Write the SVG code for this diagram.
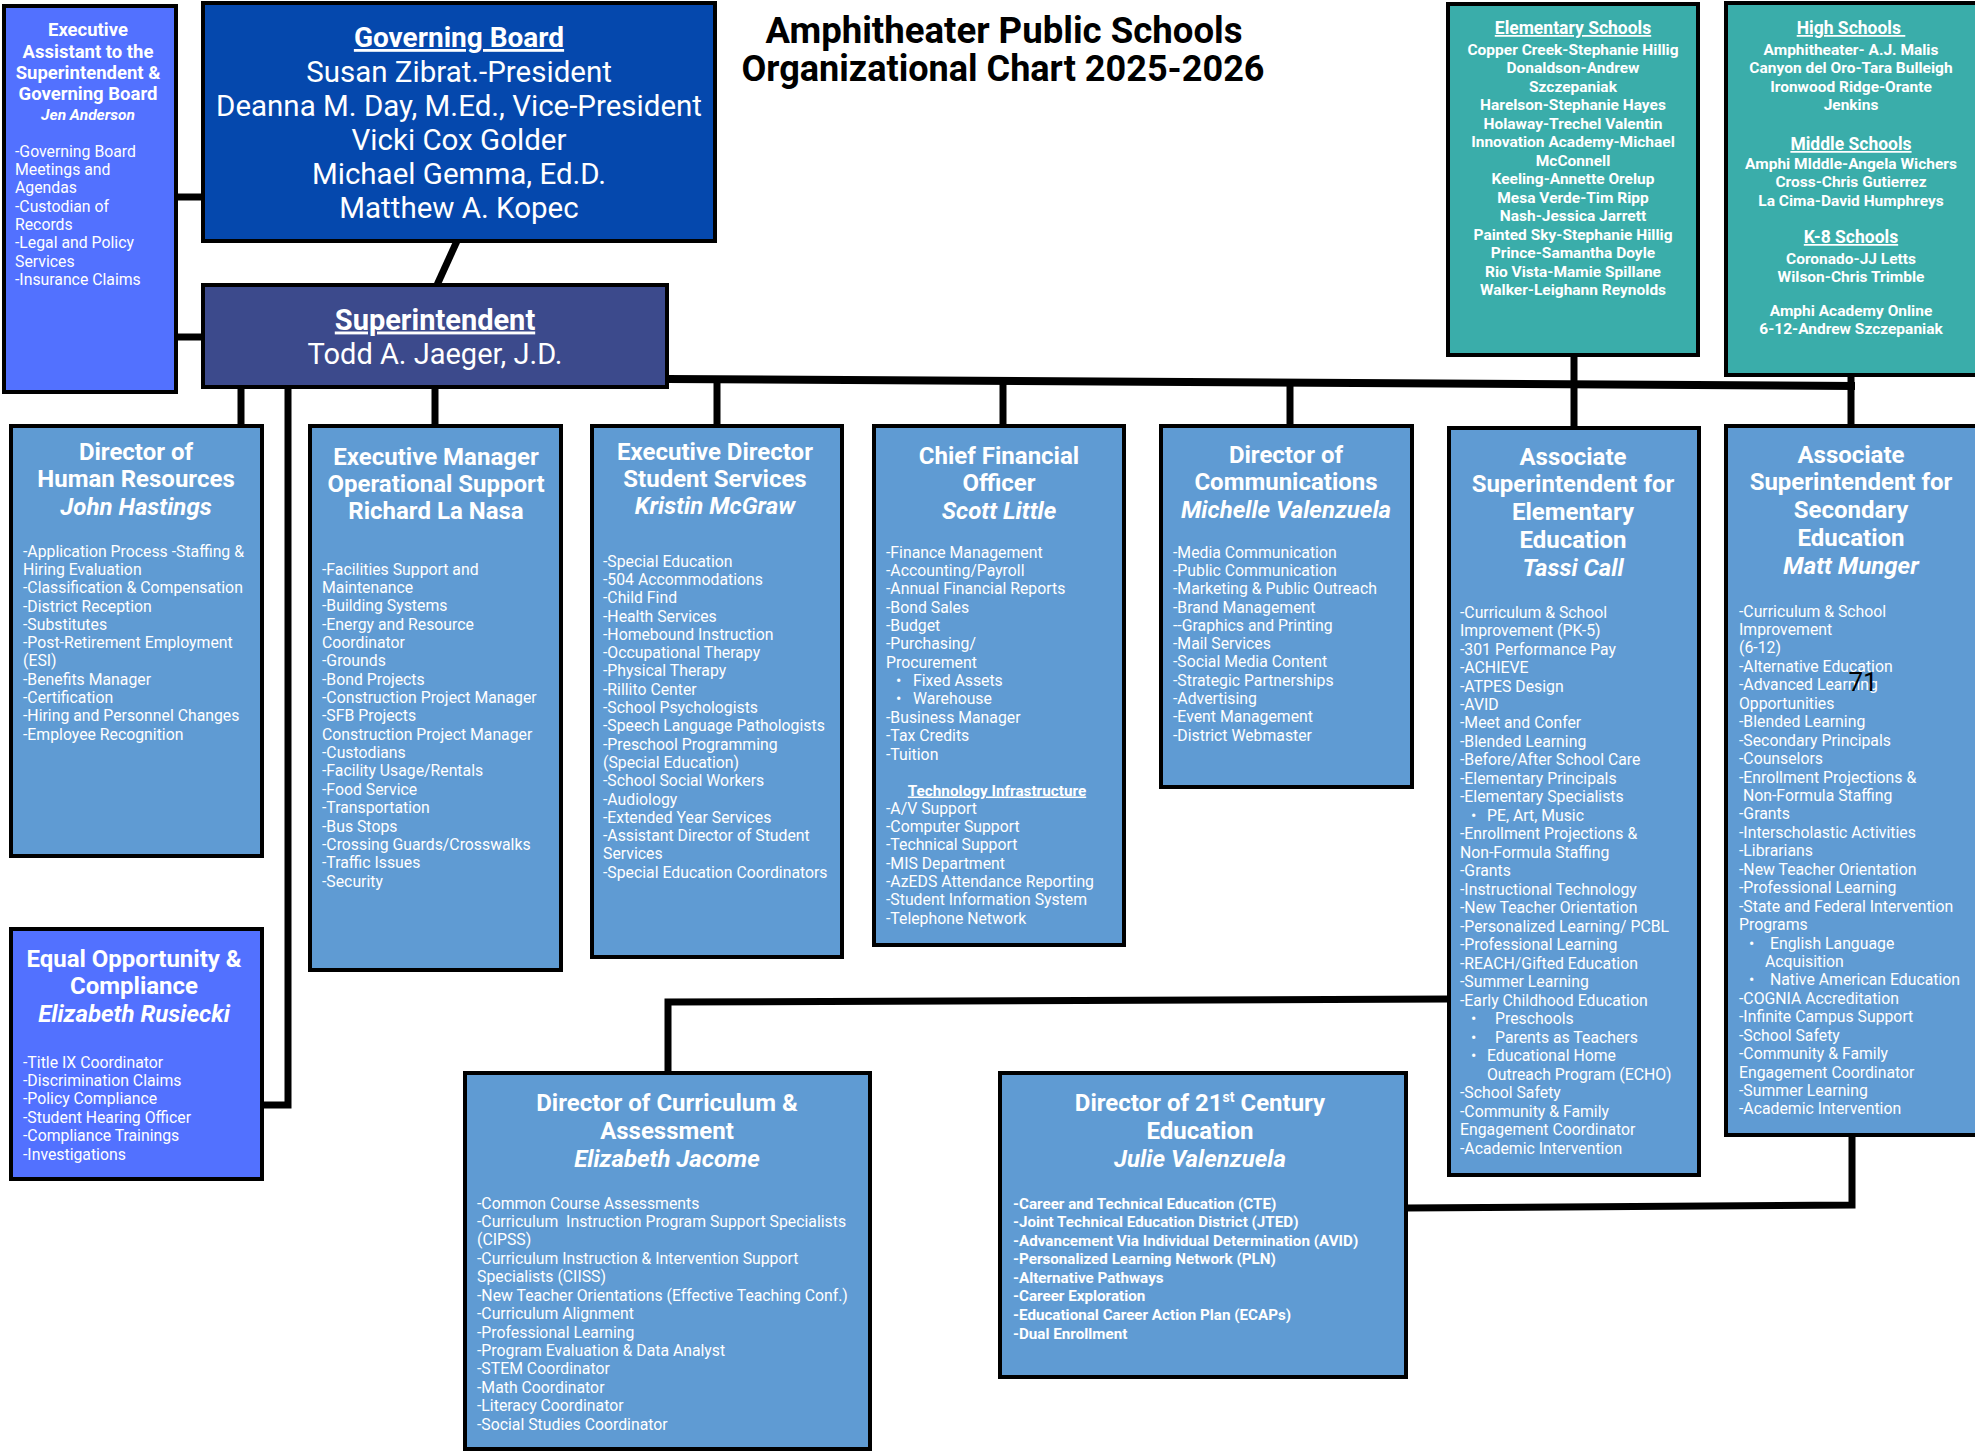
<svg xmlns="http://www.w3.org/2000/svg" width="1975" height="1452" viewBox="0 0 1975 1452">
<style>
text{font-family:Roboto,"Liberation Sans",Arial,sans-serif;fill:#fff}
.box{stroke:#000;stroke-width:4}
.lb{fill:#5F9BD3}
.vb{fill:#5271FF}
.teal{fill:#3AADAA}
.b{font-size:15.8px}
.bb{font-size:15.2px;font-weight:bold}
.h{font-size:24px;font-weight:bold;text-anchor:middle}
.it{font-style:italic}
.u{text-decoration:underline}
.sc{font-size:15.5px;font-weight:bold;text-anchor:middle}
.sh{font-size:17.5px;font-weight:bold;text-anchor:middle;text-decoration:underline}
#connectors line,#connectors polyline{stroke:#000;stroke-width:7;fill:none}
</style>
<rect width="1975" height="1452" fill="#fff"/>

<g id="connectors">
<line x1="176" y1="197" x2="203" y2="197"/>
<line x1="176" y1="337" x2="203" y2="337"/>
<line x1="457" y1="241" x2="437" y2="285"/>
<line x1="667" y1="379" x2="1855" y2="386" style="stroke-width:8"/>
<line x1="241" y1="387" x2="241" y2="426"/>
<line x1="435" y1="387" x2="435" y2="426"/>
<polyline points="288,387 288,1105 262,1105"/>
<line x1="717" y1="379" x2="717" y2="426"/>
<line x1="1003" y1="381" x2="1003" y2="426"/>
<line x1="1290" y1="383" x2="1290" y2="426"/>
<line x1="1574" y1="355" x2="1574" y2="428"/>
<line x1="1851" y1="375" x2="1851" y2="426"/>
<polyline points="1449,999 668,1002 668,1073"/>
<polyline points="1406,1208 1852,1205 1852,1135"/>
</g>

<g id="title">
<text x="1004" y="43" text-anchor="middle" font-size="36" font-weight="bold" textLength="477" lengthAdjust="spacingAndGlyphs" style="fill:#000">Amphitheater Public Schools</text>
<text x="1003" y="81" text-anchor="middle" font-size="36" font-weight="bold" textLength="523" lengthAdjust="spacingAndGlyphs" style="fill:#000">Organizational Chart 2025-2026</text>
</g>

<g id="exec-assistant">
<rect class="box vb" x="4" y="6" width="172" height="386"/>
<text font-size="18.5" font-weight="bold" text-anchor="middle"><tspan x="88" y="36">Executive</tspan><tspan x="88" y="57.5">Assistant to the</tspan><tspan x="88" y="79">Superintendent &amp;</tspan><tspan x="88" y="100">Governing Board</tspan></text>
<text x="88" y="119.5" font-size="15.5" font-weight="bold" font-style="italic" text-anchor="middle">Jen Anderson</text>
<text font-size="15.8"><tspan x="15" y="156.5">-Governing Board</tspan><tspan x="15" dy="18.35">Meetings and</tspan><tspan x="15" dy="18.35">Agendas</tspan><tspan x="15" dy="18.35">-Custodian of</tspan><tspan x="15" dy="18.35">Records</tspan><tspan x="15" dy="18.35">-Legal and Policy</tspan><tspan x="15" dy="18.35">Services</tspan><tspan x="15" dy="18.35">-Insurance Claims</tspan></text>
</g>

<g id="governing-board">
<rect class="box" x="203" y="3" width="512" height="238" fill="#0548AD"/>
<text x="459" y="47" font-size="28" font-weight="bold" text-anchor="middle" class="u">Governing Board</text>
<text font-size="29.5" text-anchor="middle"><tspan x="459" y="81.5">Susan Zibrat.-President</tspan><tspan x="459" dy="34">Deanna M. Day, M.Ed., Vice-President</tspan><tspan x="459" dy="34">Vicki Cox Golder</tspan><tspan x="459" dy="34">Michael Gemma, Ed.D.</tspan><tspan x="459" dy="34">Matthew A. Kopec</tspan></text>
</g>

<g id="superintendent">
<rect class="box" x="203" y="285" width="464" height="102" fill="#3C4A8C"/>
<text x="435" y="329.5" font-size="29" font-weight="bold" text-anchor="middle" class="u">Superintendent</text>
<text x="435" y="363.5" font-size="29" text-anchor="middle">Todd A. Jaeger, J.D.</text>
</g>

<g id="elementary-schools">
<rect class="box teal" x="1448" y="4" width="250" height="351"/>
<text x="1573" y="34" class="sh">Elementary Schools</text>
<text class="sc"><tspan x="1573" y="54.5">Copper Creek-Stephanie Hillig</tspan><tspan x="1573" dy="18.5">Donaldson-Andrew</tspan><tspan x="1573" dy="18.5">Szczepaniak</tspan><tspan x="1573" dy="18.5">Harelson-Stephanie Hayes</tspan><tspan x="1573" dy="18.5">Holaway-Trechel Valentin</tspan><tspan x="1573" dy="18.5">Innovation Academy-Michael</tspan><tspan x="1573" dy="18.5">McConnell</tspan><tspan x="1573" dy="18.5">Keeling-Annette Orelup</tspan><tspan x="1573" dy="18.5">Mesa Verde-Tim Ripp</tspan><tspan x="1573" dy="18.5">Nash-Jessica Jarrett</tspan><tspan x="1573" dy="18.5">Painted Sky-Stephanie Hillig</tspan><tspan x="1573" dy="18.5">Prince-Samantha Doyle</tspan><tspan x="1573" dy="18.5">Rio Vista-Mamie Spillane</tspan><tspan x="1573" dy="18.5">Walker-Leighann Reynolds</tspan></text>
</g>

<g id="high-schools">
<rect class="box teal" x="1726" y="3" width="252" height="372"/>
<text x="1851" y="34" class="sh">High Schools&#160;</text>
<text class="sc"><tspan x="1851" y="54.5">Amphitheater- A.J. Malis</tspan><tspan x="1851" dy="18.5">Canyon del Oro-Tara Bulleigh</tspan><tspan x="1851" dy="18.5">Ironwood Ridge-Orante</tspan><tspan x="1851" dy="18.5">Jenkins</tspan></text>
<text x="1851" y="150" class="sh">Middle Schools</text>
<text class="sc"><tspan x="1851" y="168.5">Amphi MIddle-Angela Wichers</tspan><tspan x="1851" dy="18.5">Cross-Chris Gutierrez</tspan><tspan x="1851" dy="18.5">La Cima-David Humphreys</tspan></text>
<text x="1851" y="243" class="sh">K-8 Schools</text>
<text class="sc"><tspan x="1851" y="263.5">Coronado-JJ Letts</tspan><tspan x="1851" dy="18.5">Wilson-Chris Trimble</tspan></text>
<text class="sc"><tspan x="1851" y="315.5">Amphi Academy Online</tspan><tspan x="1851" dy="18.5">6-12-Andrew Szczepaniak</tspan></text>
</g>

<g id="human-resources">
<rect class="box lb" x="11" y="426" width="251" height="430"/>
<text class="h"><tspan x="136" y="460">Director of</tspan><tspan x="136" dy="27.3">Human Resources</tspan><tspan x="136" dy="27.3" class="it">John Hastings</tspan></text>
<text class="b"><tspan x="23" y="556.6">-Application Process -Staffing &amp;</tspan><tspan x="23" dy="18.3">Hiring Evaluation</tspan><tspan x="23" dy="18.3">-Classification &amp; Compensation</tspan><tspan x="23" dy="18.3">-District Reception</tspan><tspan x="23" dy="18.3">-Substitutes</tspan><tspan x="23" dy="18.3">-Post-Retirement Employment</tspan><tspan x="23" dy="18.3">(ESI)</tspan><tspan x="23" dy="18.3">-Benefits Manager</tspan><tspan x="23" dy="18.3">-Certification</tspan><tspan x="23" dy="18.3">-Hiring and Personnel Changes</tspan><tspan x="23" dy="18.3">-Employee Recognition</tspan></text>
</g>

<g id="operational-support">
<rect class="box lb" x="310" y="426" width="251" height="544"/>
<text class="h"><tspan x="436" y="465">Executive Manager</tspan><tspan x="436" dy="27.2">Operational Support</tspan><tspan x="436" dy="27.2">Richard La Nasa</tspan></text>
<text class="b"><tspan x="322" y="574.6">-Facilities Support and</tspan><tspan x="322" dy="18.35">Maintenance</tspan><tspan x="322" dy="18.35">-Building Systems</tspan><tspan x="322" dy="18.35">-Energy and Resource</tspan><tspan x="322" dy="18.35">Coordinator</tspan><tspan x="322" dy="18.35">-Grounds</tspan><tspan x="322" dy="18.35">-Bond Projects</tspan><tspan x="322" dy="18.35">-Construction Project Manager</tspan><tspan x="322" dy="18.35">-SFB Projects</tspan><tspan x="322" dy="18.35">Construction Project Manager</tspan><tspan x="322" dy="18.35">-Custodians</tspan><tspan x="322" dy="18.35">-Facility Usage/Rentals</tspan><tspan x="322" dy="18.35">-Food Service</tspan><tspan x="322" dy="18.35">-Transportation</tspan><tspan x="322" dy="18.35">-Bus Stops</tspan><tspan x="322" dy="18.35">-Crossing Guards/Crosswalks</tspan><tspan x="322" dy="18.35">-Traffic Issues</tspan><tspan x="322" dy="18.35">-Security</tspan></text>
</g>

<g id="student-services">
<rect class="box lb" x="592" y="426" width="250" height="531"/>
<text class="h"><tspan x="715" y="459.6">Executive Director</tspan><tspan x="715" dy="27.3">Student Services</tspan><tspan x="715" dy="27.3" class="it">Kristin McGraw</tspan></text>
<text class="b"><tspan x="603" y="566.6">-Special Education</tspan><tspan x="603" dy="18.3">-504 Accommodations</tspan><tspan x="603" dy="18.3">-Child Find</tspan><tspan x="603" dy="18.3">-Health Services</tspan><tspan x="603" dy="18.3">-Homebound Instruction</tspan><tspan x="603" dy="18.3">-Occupational Therapy</tspan><tspan x="603" dy="18.3">-Physical Therapy</tspan><tspan x="603" dy="18.3">-Rillito Center</tspan><tspan x="603" dy="18.3">-School Psychologists</tspan><tspan x="603" dy="18.3">-Speech Language Pathologists</tspan><tspan x="603" dy="18.3">-Preschool Programming</tspan><tspan x="603" dy="18.3">(Special Education)</tspan><tspan x="603" dy="18.3">-School Social Workers</tspan><tspan x="603" dy="18.3">-Audiology</tspan><tspan x="603" dy="18.3">-Extended Year Services</tspan><tspan x="603" dy="18.3">-Assistant Director of Student</tspan><tspan x="603" dy="18.3">Services</tspan><tspan x="603" dy="18.3">-Special Education Coordinators</tspan></text>
</g>

<g id="cfo">
<rect class="box lb" x="874" y="426" width="250" height="519"/>
<text class="h"><tspan x="999" y="463.5">Chief Financial</tspan><tspan x="999" dy="27.5">Officer</tspan><tspan x="999" dy="27.5" class="it">Scott Little</tspan></text>
<text class="b"><tspan x="886" y="557.6">-Finance Management</tspan><tspan x="886" dy="18.36">-Accounting/Payroll</tspan><tspan x="886" dy="18.36">-Annual Financial Reports</tspan><tspan x="886" dy="18.36">-Bond Sales</tspan><tspan x="886" dy="18.36">-Budget</tspan><tspan x="886" dy="18.36">-Purchasing/</tspan><tspan x="886" dy="18.36">Procurement</tspan><tspan x="896" dy="18.36">•</tspan><tspan x="913">Fixed Assets</tspan><tspan x="896" dy="18.36">•</tspan><tspan x="913">Warehouse</tspan><tspan x="886" dy="18.36">-Business Manager</tspan><tspan x="886" dy="18.36">-Tax Credits</tspan><tspan x="886" dy="18.36">-Tuition</tspan></text>
<text x="997" y="795.5" font-size="15.3" font-weight="bold" text-anchor="middle" class="u">Technology Infrastructure</text>
<text class="b"><tspan x="886" y="813.6">-A/V Support</tspan><tspan x="886" dy="18.33">-Computer Support</tspan><tspan x="886" dy="18.33">-Technical Support</tspan><tspan x="886" dy="18.33">-MIS Department</tspan><tspan x="886" dy="18.33">-AzEDS Attendance Reporting</tspan><tspan x="886" dy="18.33">-Student Information System</tspan><tspan x="886" dy="18.33">-Telephone Network</tspan></text>
</g>

<g id="communications">
<rect class="box lb" x="1161" y="426" width="251" height="361"/>
<text class="h"><tspan x="1286" y="462.6">Director of</tspan><tspan x="1286" dy="27.5">Communications</tspan><tspan x="1286" dy="27.5" class="it">Michelle Valenzuela</tspan></text>
<text class="b"><tspan x="1173" y="557.6">-Media Communication</tspan><tspan x="1173" dy="18.3">-Public Communication</tspan><tspan x="1173" dy="18.3">-Marketing &amp; Public Outreach</tspan><tspan x="1173" dy="18.3">-Brand Management</tspan><tspan x="1173" dy="18.3">--Graphics and Printing</tspan><tspan x="1173" dy="18.3">-Mail Services</tspan><tspan x="1173" dy="18.3">-Social Media Content</tspan><tspan x="1173" dy="18.3">-Strategic Partnerships</tspan><tspan x="1173" dy="18.3">-Advertising</tspan><tspan x="1173" dy="18.3">-Event Management</tspan><tspan x="1173" dy="18.3">-District Webmaster</tspan></text>
</g>

<g id="assoc-elementary">
<rect class="box lb" x="1449" y="428" width="250" height="747"/>
<text class="h"><tspan x="1573" y="464.6">Associate</tspan><tspan x="1573" dy="27.75">Superintendent for</tspan><tspan x="1573" dy="27.75">Elementary</tspan><tspan x="1573" dy="27.75">Education</tspan><tspan x="1573" dy="27.75" class="it">Tassi Call</tspan></text>
<text class="b"><tspan x="1460" y="617.6">-Curriculum &amp; School</tspan><tspan x="1460" dy="18.48">Improvement (PK-5)</tspan><tspan x="1460" dy="18.48">-301 Performance Pay</tspan><tspan x="1460" dy="18.48">-ACHIEVE</tspan><tspan x="1460" dy="18.48">-ATPES Design</tspan><tspan x="1460" dy="18.48">-AVID</tspan><tspan x="1460" dy="18.48">-Meet and Confer</tspan><tspan x="1460" dy="18.48">-Blended Learning</tspan><tspan x="1460" dy="18.48">-Before/After School Care</tspan><tspan x="1460" dy="18.48">-Elementary Principals</tspan><tspan x="1460" dy="18.48">-Elementary Specialists</tspan><tspan x="1471" dy="18.48">•</tspan><tspan x="1487">PE, Art, Music</tspan><tspan x="1460" dy="18.48">-Enrollment Projections &amp;</tspan><tspan x="1460" dy="18.48">Non-Formula Staffing</tspan><tspan x="1460" dy="18.48">-Grants</tspan><tspan x="1460" dy="18.48">-Instructional Technology</tspan><tspan x="1460" dy="18.48">-New Teacher Orientation</tspan><tspan x="1460" dy="18.48">-Personalized Learning/ PCBL</tspan><tspan x="1460" dy="18.48">-Professional Learning</tspan><tspan x="1460" dy="18.48">-REACH/Gifted Education</tspan><tspan x="1460" dy="18.48">-Summer Learning</tspan><tspan x="1460" dy="18.48">-Early Childhood Education</tspan><tspan x="1471" dy="18.48">•</tspan><tspan x="1495">Preschools</tspan><tspan x="1471" dy="18.48">•</tspan><tspan x="1495">Parents as Teachers</tspan><tspan x="1471" dy="18.48">•</tspan><tspan x="1487">Educational Home</tspan><tspan x="1487" dy="18.48">Outreach Program (ECHO)</tspan><tspan x="1460" dy="18.48">-School Safety</tspan><tspan x="1460" dy="18.48">-Community &amp; Family</tspan><tspan x="1460" dy="18.48">Engagement Coordinator</tspan><tspan x="1460" dy="18.48">-Academic Intervention</tspan></text>
</g>

<g id="assoc-secondary">
<rect class="box lb" x="1726" y="426" width="252" height="709"/>
<text class="h"><tspan x="1851" y="462.6">Associate</tspan><tspan x="1851" dy="27.8">Superintendent for</tspan><tspan x="1851" dy="27.8">Secondary</tspan><tspan x="1851" dy="27.8">Education</tspan><tspan x="1851" dy="27.8" class="it">Matt Munger</tspan></text>
<text class="b"><tspan x="1739" y="616.6">-Curriculum &amp; School</tspan><tspan x="1739" dy="18.44">Improvement</tspan><tspan x="1739" dy="18.44">(6-12)</tspan><tspan x="1739" dy="18.44">-Alternative Education</tspan><tspan x="1739" dy="18.44">-Advanced Learning</tspan><tspan x="1739" dy="18.44">Opportunities</tspan><tspan x="1739" dy="18.44">-Blended Learning</tspan><tspan x="1739" dy="18.44">-Secondary Principals</tspan><tspan x="1739" dy="18.44">-Counselors</tspan><tspan x="1739" dy="18.44">-Enrollment Projections &amp;</tspan><tspan x="1743" dy="18.44">Non-Formula Staffing</tspan><tspan x="1739" dy="18.44">-Grants</tspan><tspan x="1739" dy="18.44">-Interscholastic Activities</tspan><tspan x="1739" dy="18.44">-Librarians</tspan><tspan x="1739" dy="18.44">-New Teacher Orientation</tspan><tspan x="1739" dy="18.44">-Professional Learning</tspan><tspan x="1739" dy="18.44">-State and Federal Intervention</tspan><tspan x="1739" dy="18.44">Programs</tspan><tspan x="1749" dy="18.44">•</tspan><tspan x="1770">English Language</tspan><tspan x="1765" dy="18.44">Acquisition</tspan><tspan x="1749" dy="18.44">•</tspan><tspan x="1770">Native American Education</tspan><tspan x="1739" dy="18.44">-COGNIA Accreditation</tspan><tspan x="1739" dy="18.44">-Infinite Campus Support</tspan><tspan x="1739" dy="18.44">-School Safety</tspan><tspan x="1739" dy="18.44">-Community &amp; Family</tspan><tspan x="1739" dy="18.44">Engagement Coordinator</tspan><tspan x="1739" dy="18.44">-Summer Learning</tspan><tspan x="1739" dy="18.44">-Academic Intervention</tspan></text>
<text x="1863" y="691" font-size="26" text-anchor="middle" style="fill:#000">71</text>
</g>

<g id="equal-opportunity">
<rect class="box vb" x="11" y="929" width="251" height="250"/>
<text class="h"><tspan x="134" y="966.5">Equal Opportunity &amp;</tspan><tspan x="134" dy="27.5">Compliance</tspan><tspan x="134" dy="27.5" class="it">Elizabeth Rusiecki</tspan></text>
<text class="b"><tspan x="23" y="1067.6">-Title IX Coordinator</tspan><tspan x="23" dy="18.4">-Discrimination Claims</tspan><tspan x="23" dy="18.4">-Policy Compliance</tspan><tspan x="23" dy="18.4">-Student Hearing Officer</tspan><tspan x="23" dy="18.4">-Compliance Trainings</tspan><tspan x="23" dy="18.4">-Investigations</tspan></text>
</g>

<g id="curriculum">
<rect class="box lb" x="465" y="1073" width="405" height="376"/>
<text class="h"><tspan x="667" y="1110.6">Director of Curriculum &amp;</tspan><tspan x="667" dy="28">Assessment</tspan><tspan x="667" dy="28" class="it">Elizabeth Jacome</tspan></text>
<text class="b"><tspan x="477" y="1208.6">-Common Course Assessments</tspan><tspan x="477" dy="18.42">-Curriculum&#160; Instruction Program Support Specialists</tspan><tspan x="477" dy="18.42">(CIPSS)</tspan><tspan x="477" dy="18.42">-Curriculum Instruction &amp; Intervention Support</tspan><tspan x="477" dy="18.42">Specialists (CIISS)</tspan><tspan x="477" dy="18.42">-New Teacher Orientations (Effective Teaching Conf.)</tspan><tspan x="477" dy="18.42">-Curriculum Alignment</tspan><tspan x="477" dy="18.42">-Professional Learning</tspan><tspan x="477" dy="18.42">-Program Evaluation &amp; Data Analyst</tspan><tspan x="477" dy="18.42">-STEM Coordinator</tspan><tspan x="477" dy="18.42">-Math Coordinator</tspan><tspan x="477" dy="18.42">-Literacy Coordinator</tspan><tspan x="477" dy="18.42">-Social Studies Coordinator</tspan></text>
</g>

<g id="century-education">
<rect class="box lb" x="1000" y="1073" width="406" height="304"/>
<text class="h"><tspan x="1200" y="1110.6">Director of 21<tspan font-size="14" dy="-9">st</tspan><tspan dy="9"> Century</tspan></tspan><tspan x="1200" y="1138.6">Education</tspan><tspan x="1200" dy="28" class="it">Julie Valenzuela</tspan></text>
<text class="bb"><tspan x="1013" y="1208.6">-Career and Technical Education (CTE)</tspan><tspan x="1013" dy="18.57">-Joint Technical Education District (JTED)</tspan><tspan x="1013" dy="18.57">-Advancement Via Individual Determination (AVID)</tspan><tspan x="1013" dy="18.57">-Personalized Learning Network (PLN)</tspan><tspan x="1013" dy="18.57">-Alternative Pathways</tspan><tspan x="1013" dy="18.57">-Career Exploration</tspan><tspan x="1013" dy="18.57">-Educational Career Action Plan (ECAPs)</tspan><tspan x="1013" dy="18.57">-Dual Enrollment</tspan></text>
</g>
</svg>
